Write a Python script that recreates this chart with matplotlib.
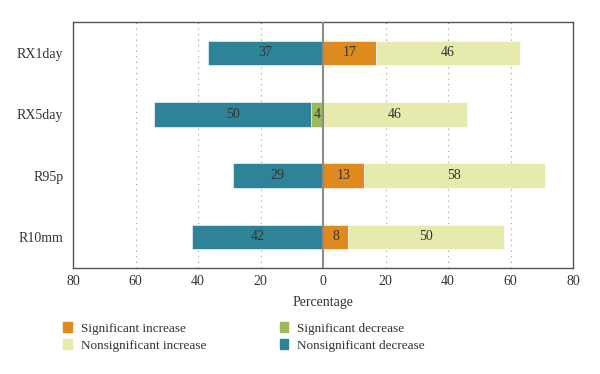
import numpy as np
import matplotlib
matplotlib.use("Agg")
import matplotlib.pyplot as plt
from matplotlib.patches import Patch

plt.rcParams['font.family'] = ['Liberation Serif', 'DejaVu Serif']

# data
indices = ['RX1day', 'RX5day', 'R95p', 'R10mm']
sig_inc = [17, 0, 13, 8]
nonsig_inc = [46, 46, 58, 50]
sig_dec = [0, 4, 0, 0]
nonsig_dec = [37, 50, 29, 42]

c_sig_inc = '#df8a1f'
c_nonsig_inc = '#e6eaad'
c_sig_dec = '#9bbb58'
c_nonsig_dec = '#2f8399'
txt = '#333333'

fig = plt.figure(figsize=(6, 3.74), dpi=100)
ax = fig.add_axes([0.122, 0.283, 0.833, 0.659])

y = np.arange(len(indices))
h = 0.4
sd = np.array(sig_dec)
nd = np.array(nonsig_dec)
si = np.array(sig_inc)
ni = np.array(nonsig_inc)

ax.barh(y, -sd, height=h, color=c_sig_dec, edgecolor='white', linewidth=0.4, zorder=3)
ax.barh(y, -nd, left=-sd, height=h, color=c_nonsig_dec, edgecolor='white', linewidth=0.4, zorder=3)
ax.barh(y, si, height=h, color=c_sig_inc, edgecolor='white', linewidth=0.4, zorder=3)
ax.barh(y, ni, left=si, height=h, color=c_nonsig_inc, edgecolor='white', linewidth=0.4, zorder=3)

# value labels
for i in range(len(indices)):
    if sd[i]:
        ax.text(-sd[i] / 2, y[i], str(sd[i]), ha='center', va='center', fontsize=10, color=txt, zorder=4)
    ax.text(-sd[i] - nd[i] / 2, y[i], str(nd[i]), ha='center', va='center', fontsize=10, color=txt, zorder=4)
    if si[i]:
        ax.text(si[i] / 2, y[i], str(si[i]), ha='center', va='center', fontsize=10, color=txt, zorder=4)
    ax.text(si[i] + ni[i] / 2, y[i], str(ni[i]), ha='center', va='center', fontsize=10, color=txt, zorder=4)

ax.axvline(0, color='#8c8c8c', linewidth=1.5, zorder=5)

ax.set_xlim(-80, 80)
ax.set_ylim(3.51, -0.51)
ax.set_yticks(y)
ax.set_yticklabels(indices, fontsize=10, color=txt)
ax.set_xticks(np.arange(-80, 81, 20))
ax.set_xticklabels([str(abs(v)) for v in range(-80, 81, 20)], fontsize=10, color=txt)
ax.tick_params(length=0, pad=5)
ax.tick_params(axis='y', pad=7)

for v in [-60, -40, -20, 20, 40, 60]:
    ax.axvline(v, color='#999999', linestyle=(0, (1, 4)), linewidth=0.8, zorder=1)

for s in ax.spines.values():
    s.set_color('#555555')
    s.set_linewidth(1.0)

ax.set_xlabel('Percentage', fontsize=10, color=txt, labelpad=6)

handles = [Patch(color=c_sig_inc), Patch(color=c_nonsig_inc),
           Patch(color=c_sig_dec), Patch(color=c_nonsig_dec)]
labels = ['Significant increase', 'Nonsignificant increase',
          'Significant decrease', 'Nonsignificant decrease']
fig.legend(handles, labels, ncol=2, loc='upper left', bbox_to_anchor=(0.097, 0.152),
           frameon=False, fontsize=9.5, handlelength=0.65, handleheight=0.75,
           handletextpad=0.65, columnspacing=5.6, labelspacing=0.35,
           labelcolor=txt, borderaxespad=0)

fig.savefig('out.png', dpi=100)
